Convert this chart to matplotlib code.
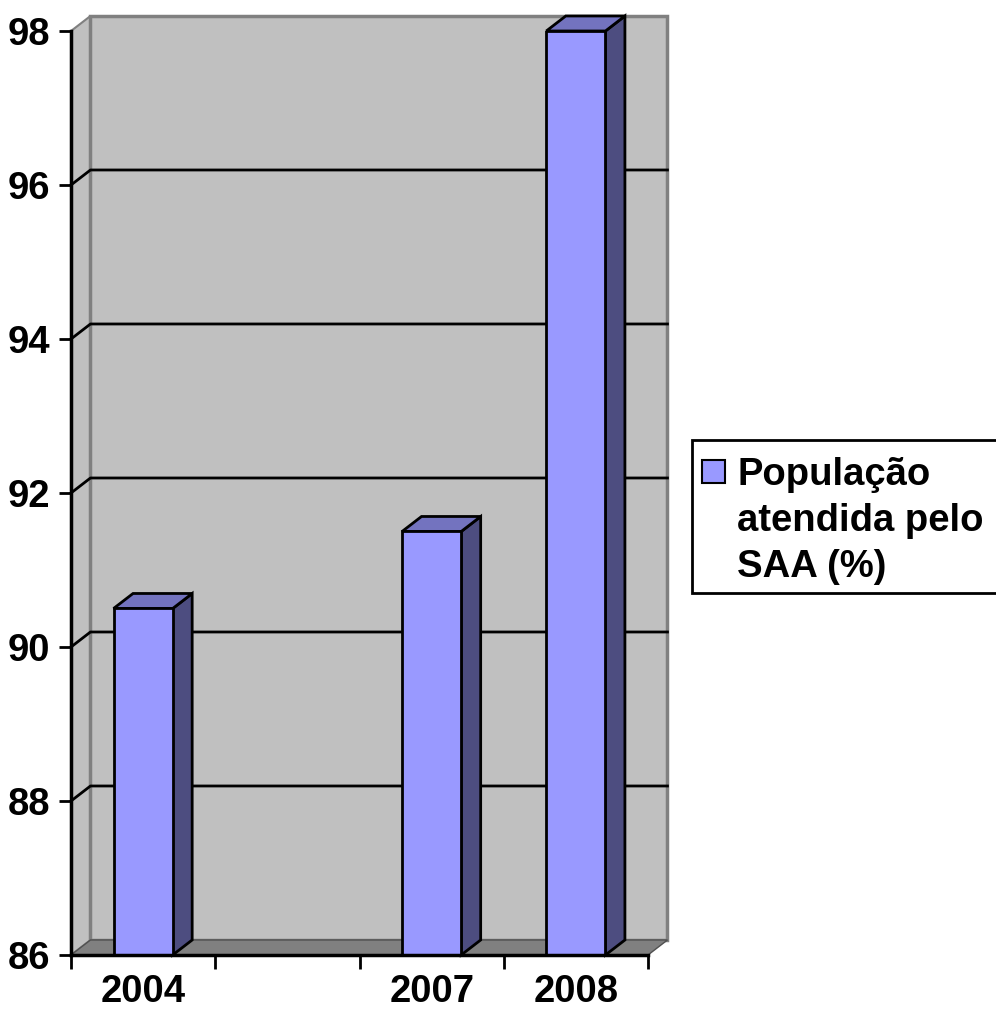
import numpy as np
import matplotlib
matplotlib.use("Agg")
import matplotlib.pyplot as plt
from matplotlib.patches import Polygon, Rectangle

plt.rcParams['font.family'] = ['Liberation Sans', 'DejaVu Sans']
plt.rcParams['font.weight'] = 'bold'

# Data
years = ['2004', '', '2007', '2008']
values = [90.5, np.nan, 91.5, 98.0]
series_lines = ['População', 'atendida pelo', 'SAA (%)']
y_ticks = [86, 88, 90, 92, 94, 96, 98]

# Colours (Excel 2003 style 3D column)
front_c = '#9999FF'
side_c = '#4D4D80'
top_c = '#7373BF'
wall_c = '#C0C0C0'
floor_c = '#808080'

DX, DY = 0.135, 0.195   # depth offset in data units
bar_w = 0.41
FS = 27.5

fig = plt.figure(figsize=(9.96, 10.11), dpi=100)
ax = fig.add_axes([71 / 996, 56 / 1011, 577 / 996, 924 / 1011])
ax.set_facecolor('none')
ax.set_xlim(-0.5, len(years) - 0.5)
ax.set_ylim(y_ticks[0], y_ticks[-1])
x0, x1 = ax.get_xlim()
y0, y1 = ax.get_ylim()

# walls and floor
left_wall = Polygon([(x0, y0), (x0 + DX, y0 + DY), (x0 + DX, y1 + DY), (x0, y1)],
                    closed=True, fc=wall_c, ec='#808080', lw=1.5, clip_on=False, zorder=0)
back_wall = Polygon([(x0 + DX, y0 + DY), (x1 + DX, y0 + DY), (x1 + DX, y1 + DY), (x0 + DX, y1 + DY)],
                    closed=True, fc=wall_c, ec='#808080', lw=2.5, clip_on=False, zorder=0)
floor = Polygon([(x0, y0), (x1, y0), (x1 + DX, y0 + DY), (x0 + DX, y0 + DY)],
                closed=True, fc=floor_c, ec='#505050', lw=1, clip_on=False, zorder=1)
for p in (left_wall, back_wall, floor):
    ax.add_patch(p)

# gridlines on the walls
for t in y_ticks[1:-1]:
    ax.plot([x0, x0 + DX, x1 + DX], [t, t + DY, t + DY], color='black', lw=2,
            clip_on=False, zorder=1)

# bars
xs = np.arange(len(years))
ax.bar(xs, np.array(values) - y0, bottom=y0, width=bar_w, color=front_c,
       edgecolor='black', linewidth=2, zorder=3)
for x, v in zip(xs, values):
    if np.isnan(v):
        continue
    r = x + bar_w / 2
    l = x - bar_w / 2
    side = Polygon([(r, y0), (r + DX, y0 + DY), (r + DX, v + DY), (r, v)],
                   closed=True, fc=side_c, ec='black', lw=2, clip_on=False, zorder=2)
    top = Polygon([(l, v), (r, v), (r + DX, v + DY), (l + DX, v + DY)],
                  closed=True, fc=top_c, ec='black', lw=2, clip_on=False, zorder=2)
    ax.add_patch(side)
    ax.add_patch(top)

# axes
for s in ('top', 'right'):
    ax.spines[s].set_visible(False)
for s in ('left', 'bottom'):
    ax.spines[s].set_linewidth(2.5)
    ax.spines[s].set_zorder(4)
ax.set_yticks(y_ticks)
ax.set_yticklabels([str(t) for t in y_ticks])
ax.set_xticks(np.arange(x0, x1 + 0.01, 1.0))
ax.set_xticklabels([])
ax.set_xticks(xs, minor=True)
ax.set_xticklabels(years, minor=True)
ax.tick_params(axis='y', direction='out', length=9, width=2, labelsize=FS, pad=6)
ax.tick_params(axis='x', which='major', direction='out', length=10, width=2)
ax.tick_params(axis='x', which='minor', length=0, labelsize=FS, pad=14)

# legend (Excel style: key aligned with first line, box runs off the right edge)
W, H = 996, 1011
fig.patches.append(Rectangle((692 / W, 1 - 593 / H), 320 / W, 153 / H,
                             transform=fig.transFigure, fc='white', ec='black', lw=2))
fig.patches.append(Rectangle((702 / W, 1 - 483 / H), 23 / W, 23 / H,
                             transform=fig.transFigure, fc=front_c, ec='black', lw=1.5))
for i, line in enumerate(series_lines):
    fig.text(737 / W, 1 - (485 + 46 * i) / H, line, fontsize=FS, fontweight='bold',
             va='baseline', ha='left')

fig.savefig('out.png', dpi=100)
